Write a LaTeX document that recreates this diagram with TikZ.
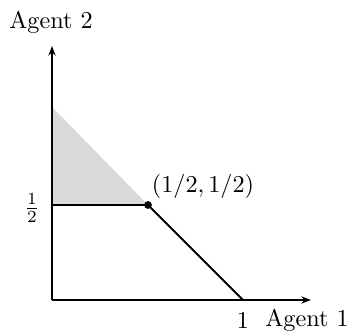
\documentclass[tikz,border=0pt]{standalone}
\usetikzlibrary{arrows.meta}
\begin{document}
\begin{tikzpicture}[x=0.413pt,y=-0.413pt,
  axis/.style={thick,-{Stealth[length=4pt,width=3pt]}},
  seg/.style={thick},
  lbl/.style={inner sep=0pt}]
\useasboundingbox (0,0) rectangle (351,334);
\coordinate (O) at (52,300);
\coordinate (Y1) at (52,107);
\coordinate (H) at (52,205);
\coordinate (X1) at (243,300);
\coordinate (YT) at (52,46);
\coordinate (XT) at (311,300);
\fill[gray!30] (Y1) -- (H) -- (148,205) -- cycle;
\draw[axis] (O) -- (YT);
\draw[axis] (O) -- (XT);
\node[circle,fill,inner sep=0pt,minimum size=3.2pt] (P) at (148,205) {};
\draw[seg] (H) -- (P.center);
\draw[seg] (P.center) -- (X1);
\node[lbl] (a2) at (51,22) {Agent 2};
\node[lbl] (half) at (32,208) {$\frac{1}{2}$};
\node[lbl] (one) at (243,320) {1};
\node[lbl] (a1) at (307,320) {Agent 1};
\node[lbl] (pl) at (203,186) {$(1/2,1/2)$};
\end{tikzpicture}
\end{document}
